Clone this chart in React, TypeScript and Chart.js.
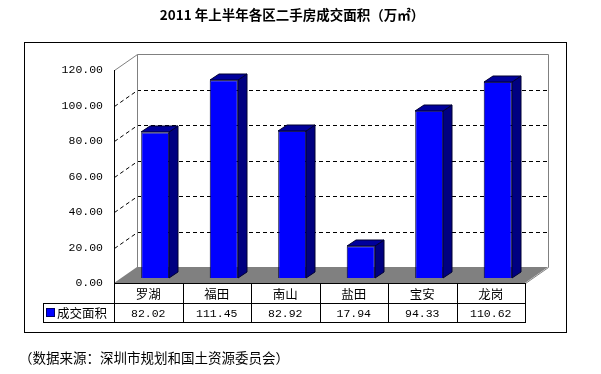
import React, { useEffect, useRef } from "react";
import { Chart, registerables } from "chart.js";

Chart.register(...registerables);

const categories = ["罗湖", "福田", "南山", "盐田", "宝安", "龙岗"];
const values = [82.02, 111.45, 82.92, 17.94, 94.33, 110.62];
const seriesName = "成交面积";
const yMin = 0;
const yMax = 120;
const yStep = 20;
const titleText = "2011 年上半年各区二手房成交面积（万㎡）";
const sourceText = "（数据来源：深圳市规划和国土资源委员会）";

// 3D geometry (pixels)
const WALL_DX = 23;
const WALL_DY = -16;
const BAR_FX = 7;
const BAR_FY = -5;
const BAR_DX = 9;
const BAR_DY = -6;

const CJK = '"Noto Sans CJK SC", "Noto Sans", sans-serif';
const MONO = '"Liberation Mono", "DejaVu Sans Mono", monospace';

const threeDPlugin = {
  id: "threeD",
  beforeDraw(chart: any) {
    const { ctx, chartArea: a, scales } = chart;
    const y = scales.y;
    ctx.save();
    ctx.fillStyle = "#fff";
    ctx.fillRect(0, 0, chart.width, chart.height);

    // outer border
    ctx.strokeStyle = "#000";
    ctx.lineWidth = 1;
    ctx.strokeRect(24.5, 42.5, 542, 290);

    const L = Math.round(a.left);
    const R = Math.round(a.right);
    const y0 = Math.round(y.getPixelForValue(yMin));
    const yTop = Math.round(y.getPixelForValue(yMax));

    // floor
    ctx.fillStyle = "#808080";
    ctx.beginPath();
    ctx.moveTo(L, y0);
    ctx.lineTo(R, y0);
    ctx.lineTo(R + WALL_DX, y0 + WALL_DY);
    ctx.lineTo(L + WALL_DX, y0 + WALL_DY);
    ctx.closePath();
    ctx.fill();

    // dashed gridlines on back wall and side wall
    ctx.strokeStyle = "#000";
    ctx.setLineDash([4, 3]);
    for (let v = yMin + yStep; v < yMax; v += yStep) {
      const py = Math.round(y.getPixelForValue(v)) + WALL_DY + 0.5;
      ctx.beginPath();
      ctx.moveTo(L + WALL_DX, py);
      ctx.lineTo(R + WALL_DX, py);
      ctx.stroke();
      const fy = Math.round(y.getPixelForValue(v)) + 0.5;
      ctx.beginPath();
      ctx.moveTo(L + 0.5, fy);
      ctx.lineTo(L + WALL_DX + 0.5, fy + WALL_DY);
      ctx.stroke();
    }
    ctx.setLineDash([]);

    // back wall border (gray)
    ctx.strokeStyle = "#808080";
    ctx.beginPath();
    ctx.moveTo(L + 0.5, yTop + 0.5);
    ctx.lineTo(L + WALL_DX + 0.5, yTop + WALL_DY + 0.5);
    ctx.lineTo(R + WALL_DX + 0.5, yTop + WALL_DY + 0.5);
    ctx.lineTo(R + WALL_DX + 0.5, y0 + WALL_DY + 0.5);
    ctx.lineTo(R + 0.5, y0 + 0.5);
    ctx.moveTo(L + WALL_DX + 0.5, yTop + WALL_DY + 0.5);
    ctx.lineTo(L + WALL_DX + 0.5, y0 + WALL_DY + 0.5);
    ctx.stroke();

    // title
    ctx.fillStyle = "#000";
    ctx.font = `bold 13.5px ${CJK}`;
    ctx.textAlign = "center";
    ctx.textBaseline = "middle";
    ctx.fillText(titleText, 292, 15);

    // source
    ctx.font = `13.5px ${CJK}`;
    ctx.textAlign = "left";
    ctx.fillText(sourceText, 19, 358);
    ctx.restore();
  },
  beforeDatasetsDraw(chart: any) {
    chart.ctx.save();
    chart.ctx.translate(BAR_FX, BAR_FY);
  },
  afterDatasetsDraw(chart: any) {
    const ctx = chart.ctx;
    ctx.restore();
    ctx.save();
    const meta = chart.getDatasetMeta(0);
    ctx.lineWidth = 1;
    ctx.strokeStyle = "#000033";
    meta.data.forEach((el: any) => {
      const p = el.getProps(["x", "y", "base", "width"], true);
      const l = Math.round(p.x - p.width / 2 + BAR_FX);
      const r = Math.round(p.x + p.width / 2 + BAR_FX);
      const t = Math.round(p.y + BAR_FY);
      const b = Math.round(p.base + BAR_FY);
      // side face
      ctx.fillStyle = "#000080";
      ctx.beginPath();
      ctx.moveTo(r, t);
      ctx.lineTo(r + BAR_DX, t + BAR_DY);
      ctx.lineTo(r + BAR_DX, b + BAR_DY);
      ctx.lineTo(r, b);
      ctx.closePath();
      ctx.fill();
      ctx.stroke();
      // top face
      ctx.fillStyle = "#00009c";
      ctx.beginPath();
      ctx.moveTo(l, t);
      ctx.lineTo(l + BAR_DX, t + BAR_DY);
      ctx.lineTo(r + BAR_DX, t + BAR_DY);
      ctx.lineTo(r, t);
      ctx.closePath();
      ctx.fill();
      ctx.stroke();
    });
    ctx.restore();
  },
  afterDraw(chart: any) {
    const { ctx, chartArea: a, scales } = chart;
    const x = scales.x;
    ctx.save();
    const n = categories.length;
    const cw = (a.right - a.left) / n;
    const top = Math.round(a.bottom);
    const mid = top + 20;
    const bot = top + 39;
    const legL = 43;
    const R = Math.round(a.right);
    ctx.strokeStyle = "#000";
    ctx.lineWidth = 1;
    ctx.beginPath();
    ctx.moveTo(a.left, top + 0.5);
    ctx.lineTo(R + 1, top + 0.5);
    ctx.moveTo(legL, mid + 0.5);
    ctx.lineTo(R + 1, mid + 0.5);
    ctx.moveTo(legL, bot + 0.5);
    ctx.lineTo(R + 1, bot + 0.5);
    ctx.moveTo(legL + 0.5, mid);
    ctx.lineTo(legL + 0.5, bot + 1);
    for (let i = 0; i <= n; i++) {
      const px = Math.round(a.left + cw * i) + 0.5;
      ctx.moveTo(px, top);
      ctx.lineTo(px, bot + 1);
    }
    ctx.stroke();

    ctx.fillStyle = "#000";
    ctx.textAlign = "center";
    ctx.textBaseline = "middle";
    categories.forEach((c, i) => {
      const cx = x.getPixelForValue(i);
      ctx.font = `12.5px ${CJK}`;
      ctx.fillText(c, cx, (top + mid) / 2 + 1);
      ctx.font = `11.5px ${MONO}`;
      ctx.fillText(values[i].toFixed(2), cx, (mid + bot) / 2 + 1);
    });
    // legend key
    ctx.fillStyle = "#0000ff";
    ctx.fillRect(47, 309, 7, 7);
    ctx.strokeStyle = "#000066";
    ctx.strokeRect(46.5, 308.5, 8, 8);
    ctx.fillStyle = "#000";
    ctx.textAlign = "left";
    ctx.font = `12.5px ${CJK}`;
    ctx.fillText(seriesName, 57, (mid + bot) / 2 + 1);
    ctx.restore();
  },
};

export default function App() {
  const ref = useRef<HTMLCanvasElement | null>(null);
  useEffect(() => {
    if (!ref.current) return;
    const chart = new Chart(ref.current, {
      type: "bar",
      data: {
        labels: categories,
        datasets: [
          {
            label: seriesName,
            data: values,
            backgroundColor: "#0000ff",
            borderColor: "#000033",
            borderWidth: 1,
            categoryPercentage: 1,
            barPercentage: 0.41,
          },
        ],
      },
      options: {
        responsive: false,
        animation: false,
        devicePixelRatio: 1,
        layout: { padding: { left: 0, top: 70, right: 76, bottom: 91 } },
        plugins: {
          legend: { display: false },
          title: { display: false },
          tooltip: { enabled: false },
        },
        scales: {
          x: { display: false },
          y: {
            min: yMin,
            max: yMax,
            afterFit: (s: any) => {
              s.width = 114;
            },
            ticks: {
              stepSize: yStep,
              padding: 11,
              color: "#000",
              font: { family: MONO, size: 11.5 },
              callback: (v: any) => Number(v).toFixed(2),
            },
            grid: { display: false, drawTicks: false },
            border: { display: true, color: "#000", width: 1 },
          },
        },
      },
      plugins: [threeDPlugin],
    });
    return () => chart.destroy();
  }, []);
  return (
    <div style={{ position: "fixed", left: 0, top: 0, width: 601, height: 374, background: "#fff" }}>
      <canvas ref={ref} width={601} height={374} style={{ display: "block" }} />
    </div>
  );
}
